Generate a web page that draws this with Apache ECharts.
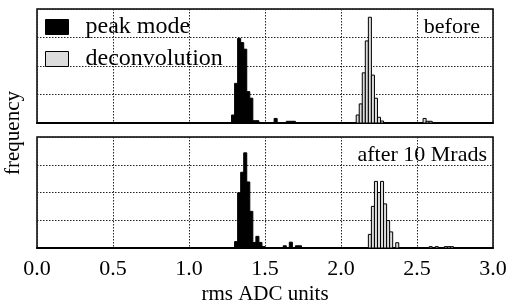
<!DOCTYPE html>
<html>
<head>
<meta charset="utf-8">
<script src="https://cdn.jsdelivr.net/npm/echarts@6/dist/echarts.min.js"></script>
<style>html,body{margin:0;padding:0;background:#fff}#c{width:510px;height:306px}</style>
</head>
<body>
<div id="c"></div>
<script>
// bin width in rms ADC units
const binWidth = 0.02;
// x tick labels
const xTicks = ['0.0','0.5','1.0','1.5','2.0','2.5','3.0'];
// panel labels
const panelLabels = ['before', 'after 10 Mrads'];
const seriesNames = ['peak mode', 'deconvolution'];

// top panel ("before"): bin left edges and frequencies
const peakTopX  = [1.28,1.30,1.32,1.34,1.36,1.38,1.40,1.42,1.44,1.56,1.64,1.66,1.68];
const peakTopY  = [0.28,1.39,2.97,2.82,2.59,1.10,0.87,0.08,0.08,0.16,0.06,0.06,0.06];
const deconTopX = [2.10,2.12,2.14,2.16,2.18,2.20,2.22,2.24,2.26,2.54,2.56,2.58];
const deconTopY = [0.28,0.67,1.76,2.88,3.71,1.68,0.87,0.20,0.07,0.16,0.06,0.06];

// bottom panel ("after 10 Mrads")
const peakBotX  = [1.30,1.32,1.34,1.36,1.38,1.40,1.42,1.44,1.46,1.48,1.62,1.66,1.70,1.72];
const peakBotY  = [0.23,1.99,2.73,3.43,2.38,1.32,0.20,0.42,0.20,0.05,0.08,0.21,0.08,0.08];
const deconBotX = [2.18,2.20,2.22,2.24,2.26,2.28,2.30,2.32,2.36,2.58,2.62,2.68,2.70,2.72];
const deconBotY = [0.49,1.50,2.40,2.00,2.40,1.59,0.99,0.58,0.19,0.05,0.05,0.05,0.05,0.05];

const FONT = 'Liberation Serif';
const chart = echarts.init(document.getElementById('c'), null, {renderer:'canvas'});

function zipBins(xs, ys){ return xs.map((x,i)=>[x, ys[i]]); }

function histSeries(name, xs, ys, gi, fill){
  return {
    name: name, type: 'custom', xAxisIndex: gi, yAxisIndex: gi,
    itemStyle: {color: fill, borderColor: '#000', borderWidth: 1},
    data: zipBins(xs, ys),
    renderItem: function(params, api){
      const x0 = api.value(0), y = api.value(1);
      const p0 = api.coord([x0, y]);
      const p1 = api.coord([x0 + binWidth, 0]);
      return {
        type: 'rect',
        shape: {x: p0[0], y: p0[1], width: p1[0]-p0[0], height: p1[1]-p0[1]},
        style: {fill: fill, stroke: '#000', lineWidth: 1}
      };
    }
  };
}

const gridLine = {show:true, lineStyle:{color:'#222', width:1, type:[1.5,1.5]}};

function xAxis(gi, showLabels){
  return {
    type:'value', gridIndex: gi, min:0, max:3, interval:0.5,
    axisLine:{show:true, onZero:false, lineStyle:{color:'#000', width:2}},
    axisTick:{show:false},
    splitLine: gridLine,
    axisLabel: showLabels ? {show:true, margin:10, color:'#000', fontFamily:FONT, fontSize:22,
      formatter: v => xTicks[Math.round(v/0.5)]} : {show:false},
    name: showLabels ? 'rms ADC units' : '',
    nameLocation:'middle', nameGap:36,
    nameTextStyle:{color:'#000', fontFamily:FONT, fontSize:21}
  };
}
function yAxis(gi){
  return {
    type:'value', gridIndex: gi, min:0, max:4, interval:1,
    axisLine:{show:false}, axisTick:{show:false}, axisLabel:{show:false},
    splitLine: gridLine
  };
}

chart.setOption({
  animation:false,
  backgroundColor:'#fff',
  grid:[
    {left:37, top:9, width:456, height:114, show:true, borderColor:'#000', borderWidth:1.5, backgroundColor:'transparent'},
    {left:37, top:137, width:456, height:114, show:true, borderColor:'#000', borderWidth:1.5, backgroundColor:'transparent'}
  ],
  xAxis:[xAxis(0,false), xAxis(1,true)],
  yAxis:[yAxis(0), yAxis(1)],
  legend:{
    orient:'vertical', left:40, top:10, itemWidth:23, itemHeight:15, itemGap:8,
    icon:'rect',
    textStyle:{color:'#000', fontFamily:FONT, fontSize:24, padding:[0,0,0,12]},
    data:[
      {name:seriesNames[0], itemStyle:{color:'#000', borderColor:'#000', borderWidth:1}},
      {name:seriesNames[1], itemStyle:{color:'#dcdcdc', borderColor:'#000', borderWidth:1}}
    ]
  },
  title:[
    {text:panelLabels[0], right:30, top:16, textStyle:{color:'#000', fontFamily:FONT, fontSize:22, fontWeight:'normal'}, padding:0},
    {text:panelLabels[1], right:23, top:144, textStyle:{color:'#000', fontFamily:FONT, fontSize:22, fontWeight:'normal'}, padding:0}
  ],
  graphic:[
    {type:'text', x:13, y:133, rotation:Math.PI/2,
     style:{text:'frequency', fill:'#000', font:'21px "Liberation Serif"', align:'center', verticalAlign:'middle'}}
  ],
  series:[
    histSeries(seriesNames[0], peakTopX, peakTopY, 0, '#000'),
    histSeries(seriesNames[1], deconTopX, deconTopY, 0, '#dcdcdc'),
    histSeries(seriesNames[0], peakBotX, peakBotY, 1, '#000'),
    histSeries(seriesNames[1], deconBotX, deconBotY, 1, '#dcdcdc')
  ]
});
</script>
</body>
</html>
